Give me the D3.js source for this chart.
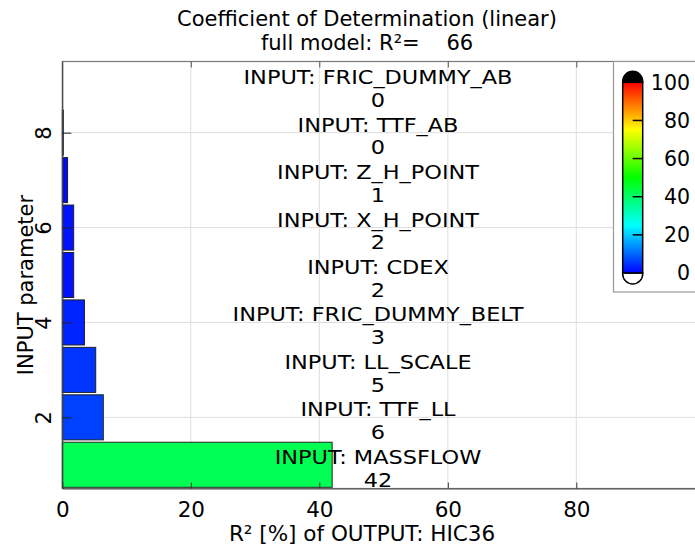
<!DOCTYPE html>
<html><head><meta charset="utf-8">
<script src="https://cdn.jsdelivr.net/npm/d3@7"></script>
<style>
html,body{margin:0;padding:0;background:#fff;overflow:hidden}
svg text{font-family:"DejaVu Sans",sans-serif;fill:#000}
</style></head>
<body>
<script>
// ---- data ----
const params = ["MASSFLOW","TTF_LL","LL_SCALE","FRIC_DUMMY_BELT","CDEX","X_H_POINT","Z_H_POINT","TTF_AB","FRIC_DUMMY_AB"];
const r2 = [42.0, 6.38, 5.2, 3.45, 1.77, 1.77, 0.82, 0.15, 0.0];
const xTicks = [0,20,40,60,80];
const yTicks = [2,4,6,8];
const cbTicks = [0,20,40,60,80,100];
const fullModel = 66;
const titleLine1 = "Coefficient of Determination (linear)";
const xTitle = "R\u00B2 [%] of OUTPUT: HIC36";
const yTitle = "INPUT parameter";

const W = 695, H = 546;
const svg = d3.select("body").append("svg").attr("width", W).attr("height", H);

const pL = 62.3, pR = 704.8, pT = 61.5, pB = 488.5;
const x = d3.scaleLinear().domain([0,100]).range([pL,pR]);
const y = d3.scaleLinear().domain([0.5, params.length + 0.5]).range([pB, pT]);
const color = v => d3.hsl(240*(1 - v/100), 1, 0.5).toString();

// grid
const g = svg.append("g");
g.selectAll(".gx").data(xTicks.filter(d=>d>0)).join("line")
  .attr("x1", d=>x(d)).attr("x2", d=>x(d)).attr("y1", pT).attr("y2", pB)
  .attr("stroke", "#dedede").attr("stroke-width", 1);
g.append("g").selectAll("line").data(yTicks).join("line")
  .attr("x1", pL).attr("x2", pR).attr("y1", d=>y(d)).attr("y2", d=>y(d))
  .attr("stroke", "#dedede").attr("stroke-width", 1);

// bars
const bh = 0.95;
svg.append("g").selectAll("rect").data(r2).join("rect")
  .attr("x", x(0))
  .attr("y", (d,i)=>y(i+1+bh/2))
  .attr("width", d=>Math.max(0, x(d)-x(0)))
  .attr("height", (d,i)=>y(i+1-bh/2)-y(i+1+bh/2))
  .attr("fill", d=>color(d))
  .attr("stroke", "#222").attr("stroke-width", 1);

// frame
svg.append("rect").attr("x", pL).attr("y", pT).attr("width", pR-pL).attr("height", pB-pT)
  .attr("fill","none").attr("stroke","#777").attr("stroke-width",1.2);

// axes
const xAxis = d3.axisBottom(x).tickValues(xTicks).tickSizeInner(-6).tickSizeOuter(0).tickPadding(13);
const gx = svg.append("g").attr("transform", `translate(0,${pB})`).call(xAxis);
gx.select(".domain").attr("stroke","#555");
gx.selectAll(".tick line").attr("stroke","#333");
gx.selectAll("text").style("font-size","21.5px").attr("font-family",null);
const xTop = d3.axisTop(x).tickValues(xTicks.filter(d=>d>0)).tickSizeInner(-6).tickSizeOuter(0).tickFormat("");
const gxt = svg.append("g").attr("transform", `translate(0,${pT})`).call(xTop);
gxt.select(".domain").remove(); gxt.selectAll(".tick line").attr("stroke","#555");

const yAxis = d3.axisLeft(y).tickValues(yTicks).tickSizeInner(-9).tickSizeOuter(0).tickPadding(0).tickFormat(d3.format("d"));
const gy = svg.append("g").attr("transform", `translate(${pL},0)`).call(yAxis);
gy.select(".domain").attr("stroke","#333");
gy.selectAll(".tick line").attr("stroke","#222");
gy.selectAll(".tick text").attr("x", null).attr("dy", null)
  .attr("text-anchor","middle")
  .attr("transform","translate(-19,0) rotate(-90)")
  .attr("dy","0.36em")
  .style("font-size","21px").attr("font-family",null);

// bar labels
const lab = svg.append("g");
params.forEach((p,i)=>{
  lab.append("text").attr("transform", `translate(378,${y(i+1)-1}) scale(1.18,1)`).attr("text-anchor","middle")
    .style("font-size","19px").text("INPUT: " + p);
  lab.append("text").attr("transform", `translate(378,${y(i+1)+21.8}) scale(1.18,1)`).attr("text-anchor","middle")
    .style("font-size","19px").text(d3.format(".0f")(r2[i]));
});

// titles
svg.append("text").attr("x", 367).attr("y", 26).attr("text-anchor","middle").style("font-size","21px").text(titleLine1);
svg.append("text").attr("x", 367).attr("y", 50).attr("text-anchor","middle").style("font-size","21px")
  .style("white-space","pre").attr("xml:space","preserve").text("full model: R\u00B2=    " + fullModel);
svg.append("text").attr("x", 362).attr("y", 541).attr("text-anchor","middle").style("font-size","21.5px").text(xTitle);
svg.append("text").attr("transform", `translate(33,${(pT+pB)/2+10}) rotate(-90)`).attr("text-anchor","middle")
  .style("font-size","21px").text(yTitle);

// colorbar legend
svg.append("rect").attr("x", 613.5).attr("y", pT).attr("width", 120).attr("height", 230.5)
  .attr("fill","#fff").attr("stroke","#999").attr("stroke-width",1.2);
const cb = d3.scaleLinear().domain([0,100]).range([273, 82.3]);
const cbx = 622.7, cbw = 20;
const defs = svg.append("defs");
const grad = defs.append("linearGradient").attr("id","jet").attr("x1",0).attr("y1",1).attr("x2",0).attr("y2",0);
d3.range(0,101,5).forEach(v=>grad.append("stop").attr("offset", v/100).attr("stop-color", color(v)));
const rr = cbw/2;
svg.append("path").attr("d", `M${cbx},${cb(100)} L${cbx},${cb(100)-1} A${rr},${rr} 0 0 1 ${cbx+cbw},${cb(100)-1} L${cbx+cbw},${cb(100)} Z`)
  .attr("fill","#000").attr("stroke","#000").attr("stroke-width",1.5);
svg.append("path").attr("d", `M${cbx},${cb(0)} L${cbx},${cb(0)+1} A${rr},${rr} 0 0 0 ${cbx+cbw},${cb(0)+1} L${cbx+cbw},${cb(0)} Z`)
  .attr("fill","#fff").attr("stroke","#000").attr("stroke-width",1.5);
svg.append("rect").attr("x", cbx).attr("y", cb(100)).attr("width", cbw).attr("height", cb(0)-cb(100))
  .attr("fill","url(#jet)").attr("stroke","#000").attr("stroke-width",1.5);
svg.append("g").selectAll("line").data(cbTicks.filter(d=>d>0 && d<100)).join("line")
  .attr("x1", cbx+cbw/2).attr("x2", cbx+cbw).attr("y1", d=>cb(d)).attr("y2", d=>cb(d))
  .attr("stroke","#000").attr("stroke-width",1.5);
svg.append("g").selectAll("text").data(cbTicks).join("text")
  .attr("x", 690).attr("y", d=>cb(d)).attr("dy","0.36em").attr("text-anchor","end")
  .style("font-size","20.5px").text(d=>d);
</script>
</body></html>
